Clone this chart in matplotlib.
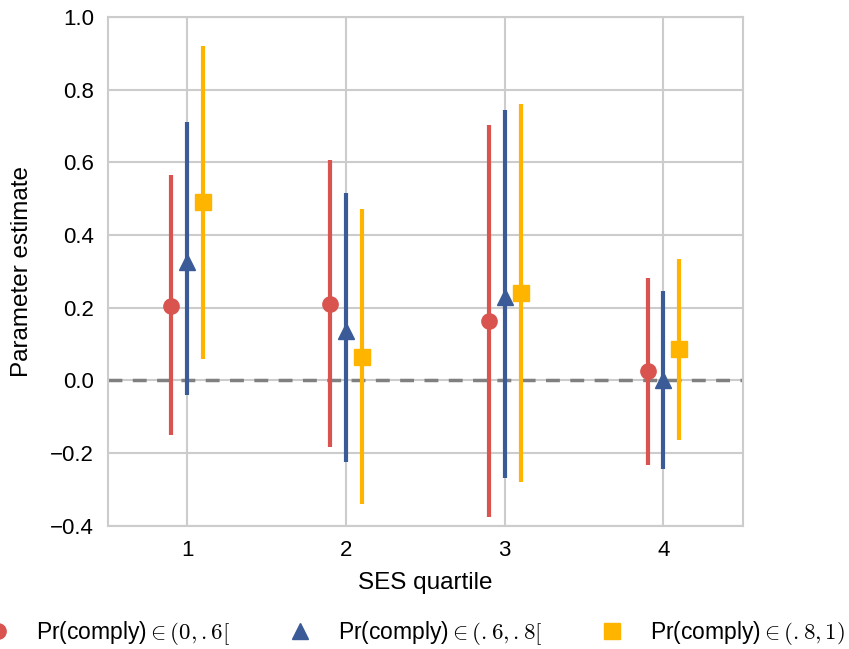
import matplotlib.pyplot as plt
from matplotlib.lines import Line2D
import numpy as np

quartiles = [1, 2, 3, 4]
labels = [r"Pr(comply)$\in(0,.6[$", r"Pr(comply)$\in(.6,.8[$", r"Pr(comply)$\in(.8,1)$"]

est_low = [0.204, 0.21, 0.162, 0.025]
lo_low = [-0.151, -0.183, -0.376, -0.234]
hi_low = [0.564, 0.605, 0.703, 0.282]

est_mid = [0.325, 0.137, 0.229, 0.0]
lo_mid = [-0.041, -0.225, -0.27, -0.243]
hi_mid = [0.71, 0.515, 0.745, 0.246]

est_high = [0.49, 0.064, 0.24, 0.085]
lo_high = [0.06, -0.34, -0.281, -0.165]
hi_high = [0.92, 0.47, 0.761, 0.335]

plt.rcParams['font.family'] = ['Liberation Sans', 'DejaVu Sans']
plt.rcParams['mathtext.fontset'] = 'cm'

fig = plt.figure(figsize=(8.49, 6.49), dpi=100)
ax = fig.add_axes([0.127, 0.19, 0.748, 0.784])

series = [
    (est_low, lo_low, hi_low, -0.1, '#d9534f', 'o', 11),
    (est_mid, lo_mid, hi_mid, 0.0, '#3b5b98', '^', 11),
    (est_high, lo_high, hi_high, 0.1, '#ffb400', 's', 11),
]
x = np.array(quartiles)
handles = []
for (est, lo, hi, off, col, mk, ms), lab in zip(series, labels):
    est = np.array(est)
    yerr = [est - np.array(lo), np.array(hi) - est]
    ax.errorbar(x + off, est, yerr=yerr, fmt=mk, color=col, ms=ms,
                elinewidth=3, capsize=0, zorder=3)
    handles.append(Line2D([], [], ls='none', marker=mk, color=col, ms=ms))

ax.axhline(0, color='#808080', lw=2.5, ls=(0, (4, 3)), zorder=2)

ax.set_xlim(0.5, 4.5)
ax.set_ylim(-0.4, 1.0)
ax.set_xticks(quartiles)
ax.set_yticks(np.arange(-0.4, 1.01, 0.2))
ax.set_yticklabels(['\u22120.4', '\u22120.2', '0.0', '0.2', '0.4', '0.6', '0.8', '1.0'])
ax.grid(True, color='#cccccc', lw=1.5)
ax.set_axisbelow(True)
for s in ax.spines.values():
    s.set_color('#cccccc')
    s.set_linewidth(1.5)
ax.tick_params(length=0, labelsize=16, pad=10)
ax.set_xlabel("SES quartile", fontsize=17.5, labelpad=8)
ax.set_ylabel("Parameter estimate", fontsize=17.5, labelpad=12)

fig.legend(handles=handles, labels=labels, loc='center left', bbox_to_anchor=(-0.04, 0.025),
           ncol=3, frameon=False, fontsize=16.5, handlelength=1.0, columnspacing=2.55,
           handletextpad=1.15)

fig.savefig('out.png', dpi=100)
